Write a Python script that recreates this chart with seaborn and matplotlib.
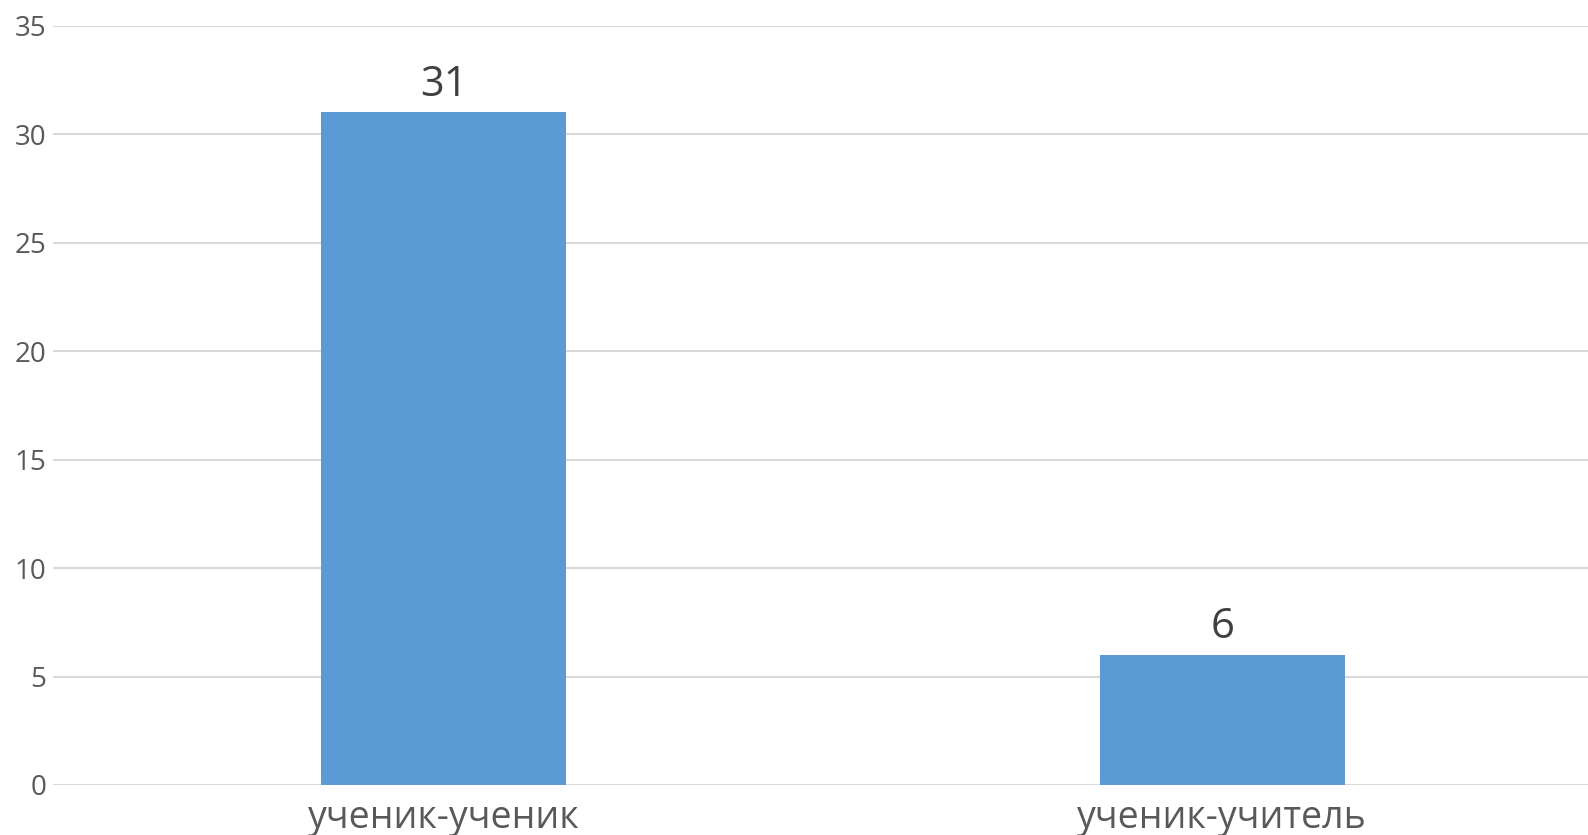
import matplotlib
matplotlib.use("Agg")
import matplotlib.pyplot as plt
import seaborn as sns
import pandas as pd

# Данные
categories = ["ученик-ученик", "ученик-учитель"]
values = [31, 6]

df = pd.DataFrame({"Тип": categories, "Количество": values})

sns.set_style("white")
plt.rcParams["font.family"] = ["Open Sans", "DejaVu Sans"]

fig = plt.figure(figsize=(15.88, 8.35), dpi=100)
ax = fig.add_axes([0.0334, 0.0599, 0.9666, 0.9093])

sns.barplot(data=df, x="Тип", y="Количество", color="#5B9BD5",
            width=0.315, saturation=1, linewidth=0, ax=ax, zorder=3)

ax.set_ylim(0, 35)
ax.set_yticks(range(0, 36, 5))
ax.set_xlim(-0.502, 1.47)
ax.yaxis.grid(True, color="#D9D9D9", linewidth=1.5, zorder=0)
ax.set_axisbelow(True)
for s in ax.spines.values():
    s.set_visible(False)

ax.tick_params(axis="y", length=0, pad=5, labelsize=20, labelcolor="#595959")
ax.tick_params(axis="x", length=0, pad=10, labelsize=27, labelcolor="#595959")
ax.set_xlabel("")
ax.set_ylabel("")

# Подписи значений
for c in ax.containers:
    ax.bar_label(c, labels=[str(v) for v in values], padding=5,
                 fontsize=30, color="#404040")

fig.savefig("out.png", dpi=100)
